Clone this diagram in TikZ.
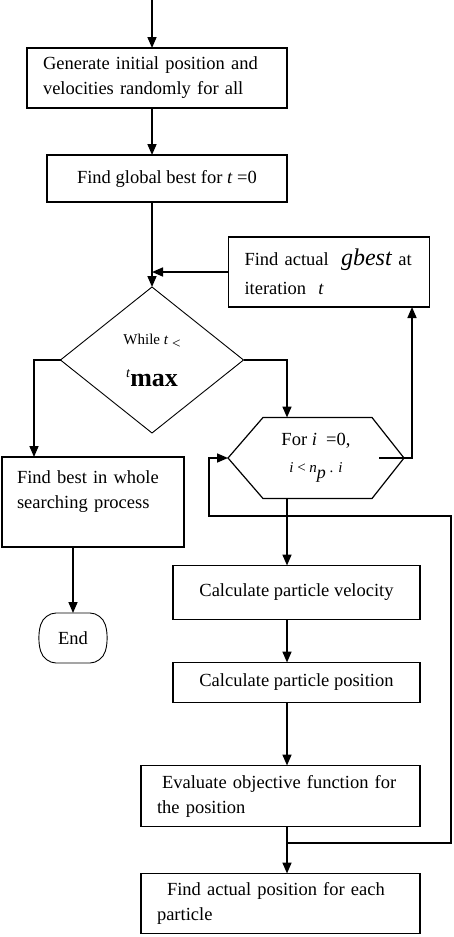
\documentclass[tikz,border=0pt]{standalone}
\usepackage{fontspec}
\setmainfont{Liberation Serif}
\usetikzlibrary{arrows.meta, positioning, calc, shapes.geometric}

\begin{document}
\begin{tikzpicture}[x=1pt, y=-1pt, >={Triangle[length=11pt,width=9pt]},
    font=\fontsize{18.5}{25}\selectfont,
    box/.style={draw, line width=1.6pt, inner sep=0pt, outer sep=0pt, align=center},
    lbox/.style={box, align=left, inner xsep=16pt},
    flow/.style={->, line width=1.6pt}]
    \useasboundingbox (0,0) rectangle (453,937);

    % Nodes
    \node (init) [lbox, text width=228pt, minimum height=60pt] at (157,78)
        {Generate initial position and\\velocities randomly for all};
    \node (gbest0) [box, minimum width=240pt, minimum height=47pt, below=47pt of init, xshift=10pt]
        {Find global best for \textit{t} =0};
    \node (while) [diamond, draw, line width=0.9pt, aspect=1.25, minimum width=183pt,
        minimum height=146pt, inner sep=0pt, outer sep=0pt, align=center,
        below=85pt of gbest0, xshift=-15pt]
        {{\fontsize{15}{15}\selectfont While \textit{t} \raisebox{-4pt}{<}}\\[17pt]
         \raisebox{9pt}{\fontsize{14}{14}\selectfont\textit{t}}{\fontsize{26}{26}\selectfont\bfseries max}};
    \node (gact) [lbox, text width=169pt, minimum height=70pt] at (329,272)
        {Find actual \ {\fontsize{24}{24}\selectfont\textit{gbest}} at\\[4pt]iteration \ \textit{t}};
    \node (hex) [inner sep=0pt, outer sep=0pt, minimum width=176pt, minimum height=81pt,
        align=center] at (316,458)
        {For \textit{i} \ =0,\\[2pt]
         {\fontsize{15}{15}\selectfont\textit{i} < \textit{n}\raisebox{-6pt}{\fontsize{18}{18}\selectfont\textit{p}} . \textit{i}}};
    \node (best) [lbox, inner xsep=15pt, text width=152pt, minimum height=90pt] at (93,502)
        {Find best in whole\\searching process\\\mbox{}};
    \node (end) [inner sep=0pt, outer sep=0pt, minimum width=72pt, minimum height=50pt,
        below=66pt of best, xshift=-20pt] {End};
    \node (vel) [box, minimum width=247pt, minimum height=54pt, below=67pt of hex, xshift=-19.5pt]
        {Calculate particle velocity};
    \node (pos) [box, minimum width=247pt, minimum height=40pt, below=43pt of vel]
        {Calculate particle position};
    \node (eval) [lbox, text width=247pt, minimum height=61pt, below=63pt of pos, xshift=-16pt]
        {\hspace*{5pt}Evaluate objective function for\\the position};
    \node (last) [lbox, text width=247pt, minimum height=60pt, below=47pt of eval]
        {\hspace*{10pt}Find actual position for each\\particle};

    % Outlines of the loop node and the terminal
    \draw[line width=1.2pt] ([xshift=35pt]hex.north west) -- ([xshift=-32pt]hex.north east)
        -- (hex.east) -- ([xshift=-32pt]hex.south east) -- ([xshift=35pt]hex.south west)
        -- (hex.west) -- cycle;
    \draw[line width=0.9pt, rounded corners=12pt] ([xshift=7pt]end.north west)
        -- ([xshift=-7pt]end.north east) -- (end.east) -- ([xshift=-7pt]end.south east)
        -- ([xshift=7pt]end.south west) -- (end.west) -- cycle;

    % Helper points
    \coordinate (entry) at (152,0);
    \coordinate (col) at (287,0);
    \coordinate (loopR) at (451,516);
    \coordinate (loopL) at (209,516);

    % Main flow
    \draw[flow] (entry) -- (entry |- init.north);
    \draw[flow] (init.south -| entry) -- (gbest0.north -| entry);
    \draw[flow] (gbest0.south -| while.north) -- (while.north);
    \draw[flow] (gact.west) -- (gact.west -| while.north);
    \draw[flow] (while.west) -| ([xshift=-59pt]best.north);
    \draw[flow] (while.east) -| (hex.north -| col);
    \draw[flow] ([xshift=-25pt]hex.east) -| ([xshift=83pt]gact.south);
    \draw[flow] (best.south -| end.north) -- (end.north);
    \draw[flow] (hex.south -| col) -- (vel.north -| col);
    \draw[flow] (vel.south -| col) -- (pos.north -| col);
    \draw[flow] (pos.south -| col) -- (eval.north -| col);
    \draw[flow] (eval.south -| col) -- (last.north -| col);

    % Loop back to the particle counter
    \coordinate (back) at ($(eval.south -| col)!0.35!(last.north -| col)$);
    \draw[flow] (back) -| (loopR) -- (loopL) |- (hex.west);
\end{tikzpicture}
\end{document}
